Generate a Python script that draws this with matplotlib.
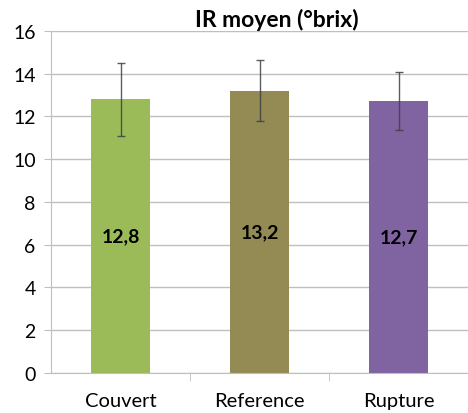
import matplotlib.pyplot as plt

plt.rcParams["font.family"] = ["Lato", "DejaVu Sans"]

categories = ["Couvert", "Reference", "Rupture"]
means = [12.8, 13.2, 12.7]
errors = [1.7, 1.42, 1.36]
labels = ["12,8", "13,2", "12,7"]
colors = ["#9BBB59", "#948A54", "#8064A2"]

fig = plt.figure(figsize=(4.68, 4.14), dpi=100)
ax = fig.add_axes([0.109, 0.097, 0.891, 0.826])

x = range(len(categories))
ax.bar(x, means, width=0.43, color=colors, zorder=2)
ax.errorbar(x, means, yerr=errors, fmt="none", ecolor="#404040", elinewidth=1,
            capsize=3, capthick=1, alpha=0.85, zorder=3)

for i, (m, lab) in enumerate(zip(means, labels)):
    ax.text(i, m / 2, lab, ha="center", va="center", fontsize=14, fontweight="bold", zorder=4)

ax.set_xlim(-0.5, 2.5)
ax.set_ylim(0, 16)
ax.set_yticks(range(0, 17, 2))
ax.set_xticks(list(x))
ax.set_xticklabels(categories, fontsize=14.5)
ax.tick_params(axis="x", length=0, pad=14)
ax.tick_params(axis="y", labelsize=14, length=5, color="#BFBFBF", pad=6)
ax.set_xticks([0.5, 1.5], minor=True)
ax.tick_params(axis="x", which="minor", length=6, color="#BFBFBF")

ax.grid(axis="y", color="#BFBFBF", linewidth=1, zorder=0)
for side in ["top", "right"]:
    ax.spines[side].set_visible(False)
for side in ["left", "bottom"]:
    ax.spines[side].set_color("#BFBFBF")

fig.text(277 / 468, 1 - 20 / 414, "IR moyen (°brix)", ha="center", va="center",
         fontsize=16.5, fontweight="bold")

fig.savefig("out.png", dpi=100)
